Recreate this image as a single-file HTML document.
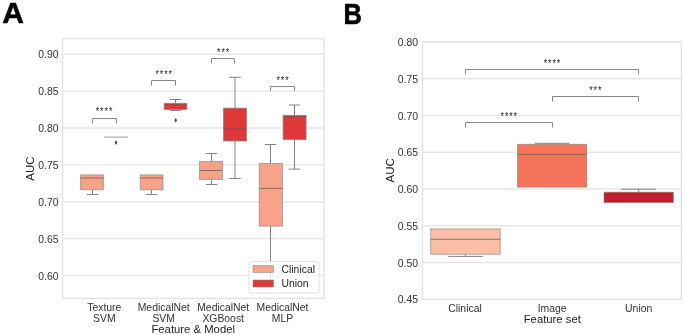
<!DOCTYPE html>
<html><head><meta charset="utf-8"><style>
html,body{margin:0;padding:0;background:#fff;}
svg{display:block;will-change:transform;}
text{font-family:"Liberation Sans", sans-serif;}
</style></head><body>
<svg width="685" height="335" viewBox="0 0 685 335">
<rect width="685" height="335" fill="#fff"/>
<line x1="62.6" y1="54.3" x2="324.1" y2="54.3" stroke="#e6e6e6" stroke-width="1.4"/>
<text x="58.5" y="58.40" text-anchor="end" font-size="10.4" fill="#333">0.90</text>
<line x1="62.6" y1="91.17" x2="324.1" y2="91.17" stroke="#e6e6e6" stroke-width="1.4"/>
<text x="58.5" y="95.27" text-anchor="end" font-size="10.4" fill="#333">0.85</text>
<line x1="62.6" y1="128.04" x2="324.1" y2="128.04" stroke="#e6e6e6" stroke-width="1.4"/>
<text x="58.5" y="132.14" text-anchor="end" font-size="10.4" fill="#333">0.80</text>
<line x1="62.6" y1="164.91" x2="324.1" y2="164.91" stroke="#e6e6e6" stroke-width="1.4"/>
<text x="58.5" y="169.01" text-anchor="end" font-size="10.4" fill="#333">0.75</text>
<line x1="62.6" y1="201.78" x2="324.1" y2="201.78" stroke="#e6e6e6" stroke-width="1.4"/>
<text x="58.5" y="205.88" text-anchor="end" font-size="10.4" fill="#333">0.70</text>
<line x1="62.6" y1="238.65" x2="324.1" y2="238.65" stroke="#e6e6e6" stroke-width="1.4"/>
<text x="58.5" y="242.75" text-anchor="end" font-size="10.4" fill="#333">0.65</text>
<line x1="62.6" y1="275.52" x2="324.1" y2="275.52" stroke="#e6e6e6" stroke-width="1.4"/>
<text x="58.5" y="279.62" text-anchor="end" font-size="10.4" fill="#333">0.60</text>
<rect x="62.6" y="38.6" width="261.50" height="259.80" fill="none" stroke="#e3e3e3" stroke-width="1.4"/>
<line x1="92.5" y1="189.8" x2="92.5" y2="194.5" stroke="#838383" stroke-width="1"/>
<line x1="86.80" y1="194.5" x2="98.20" y2="194.5" stroke="#838383" stroke-width="1"/>
<rect x="80.6" y="174.9" width="22.80" height="14.90" fill="#f8a28a" stroke="#838383" stroke-opacity="0.7" stroke-width="0.9"/>
<line x1="80.6" y1="178.0" x2="103.4" y2="178.0" stroke="#6a5a55" stroke-opacity="0.75" stroke-width="1"/>
<line x1="151.5" y1="189.8" x2="151.5" y2="194.5" stroke="#838383" stroke-width="1"/>
<line x1="145.80" y1="194.5" x2="157.20" y2="194.5" stroke="#838383" stroke-width="1"/>
<rect x="140.2" y="174.9" width="22.80" height="14.90" fill="#f8a28a" stroke="#838383" stroke-opacity="0.7" stroke-width="0.9"/>
<line x1="140.2" y1="178.0" x2="163.0" y2="178.0" stroke="#6a5a55" stroke-opacity="0.75" stroke-width="1"/>
<line x1="211.5" y1="153.5" x2="211.5" y2="161.4" stroke="#838383" stroke-width="1"/>
<line x1="205.75" y1="153.5" x2="217.25" y2="153.5" stroke="#838383" stroke-width="1"/>
<line x1="211.5" y1="179.4" x2="211.5" y2="184.5" stroke="#838383" stroke-width="1"/>
<line x1="205.75" y1="184.5" x2="217.25" y2="184.5" stroke="#838383" stroke-width="1"/>
<rect x="199.6" y="161.4" width="23.00" height="18.00" fill="#f8a28a" stroke="#838383" stroke-opacity="0.7" stroke-width="0.9"/>
<line x1="199.6" y1="170.5" x2="222.6" y2="170.5" stroke="#6a5a55" stroke-opacity="0.75" stroke-width="1"/>
<line x1="270.5" y1="144.5" x2="270.5" y2="163.4" stroke="#838383" stroke-width="1"/>
<line x1="264.70" y1="144.5" x2="276.30" y2="144.5" stroke="#838383" stroke-width="1"/>
<line x1="270.5" y1="226.1" x2="270.5" y2="286.0" stroke="#838383" stroke-width="1"/>
<line x1="264.70" y1="286.0" x2="276.30" y2="286.0" stroke="#838383" stroke-width="1"/>
<rect x="259.2" y="163.4" width="23.20" height="62.70" fill="#f8a28a" stroke="#838383" stroke-opacity="0.7" stroke-width="0.9"/>
<line x1="259.2" y1="188.4" x2="282.4" y2="188.4" stroke="#6a5a55" stroke-opacity="0.75" stroke-width="1"/>
<line x1="104.2" y1="137.1" x2="127.9" y2="137.1" stroke="#aaa" stroke-width="1.2"/>
<path d="M116.0 140.29999999999998 L117.35 142.6 L116.0 144.9 L114.65 142.6 Z" fill="#444"/>
<line x1="175.5" y1="99.5" x2="175.5" y2="103.3" stroke="#838383" stroke-width="1"/>
<line x1="169.85" y1="99.5" x2="181.15" y2="99.5" stroke="#838383" stroke-width="1"/>
<line x1="175.5" y1="109.5" x2="175.5" y2="110.5" stroke="#838383" stroke-width="1"/>
<line x1="169.85" y1="110.5" x2="181.15" y2="110.5" stroke="#838383" stroke-width="1"/>
<rect x="164.2" y="103.3" width="22.60" height="6.20" fill="#dd3939" stroke="#838383" stroke-opacity="0.7" stroke-width="0.9"/>
<line x1="164.2" y1="104.8" x2="186.8" y2="104.8" stroke="#6a5a55" stroke-opacity="0.75" stroke-width="1"/>
<path d="M175.7 117.9 L177.04999999999998 120.2 L175.7 122.5 L174.35 120.2 Z" fill="#444"/>
<line x1="235.0" y1="77.3" x2="235.0" y2="108.1" stroke="#838383" stroke-width="1"/>
<line x1="229.20" y1="77.3" x2="240.80" y2="77.3" stroke="#838383" stroke-width="1"/>
<line x1="235.0" y1="141.0" x2="235.0" y2="178.5" stroke="#838383" stroke-width="1"/>
<line x1="229.20" y1="178.5" x2="240.80" y2="178.5" stroke="#838383" stroke-width="1"/>
<rect x="223.4" y="108.1" width="23.20" height="32.90" fill="#dd3939" stroke="#838383" stroke-opacity="0.7" stroke-width="0.9"/>
<line x1="223.4" y1="129.2" x2="246.6" y2="129.2" stroke="#6a5a55" stroke-opacity="0.75" stroke-width="1"/>
<line x1="294.5" y1="105.0" x2="294.5" y2="115.3" stroke="#838383" stroke-width="1"/>
<line x1="288.75" y1="105.0" x2="300.25" y2="105.0" stroke="#838383" stroke-width="1"/>
<line x1="294.5" y1="139.6" x2="294.5" y2="169.1" stroke="#838383" stroke-width="1"/>
<line x1="288.75" y1="169.1" x2="300.25" y2="169.1" stroke="#838383" stroke-width="1"/>
<rect x="283.1" y="115.3" width="23.00" height="24.30" fill="#dd3939" stroke="#838383" stroke-opacity="0.7" stroke-width="0.9"/>
<line x1="283.1" y1="116.8" x2="306.1" y2="116.8" stroke="#6a5a55" stroke-opacity="0.75" stroke-width="1"/>
<path d="M92.5 123.5 V118.5 H116.5 V123.5" fill="none" stroke="#888" stroke-width="1"/>
<text transform="translate(97.40,115.40) scale(0.8,1)" text-anchor="middle" font-size="11" fill="#222">*</text>
<text transform="translate(101.80,115.40) scale(0.8,1)" text-anchor="middle" font-size="11" fill="#222">*</text>
<text transform="translate(106.20,115.40) scale(0.8,1)" text-anchor="middle" font-size="11" fill="#222">*</text>
<text transform="translate(110.60,115.40) scale(0.8,1)" text-anchor="middle" font-size="11" fill="#222">*</text>
<path d="M151.5 85.5 V80.5 H175.5 V85.5" fill="none" stroke="#888" stroke-width="1"/>
<text transform="translate(157.10,78.30) scale(0.8,1)" text-anchor="middle" font-size="11" fill="#222">*</text>
<text transform="translate(161.50,78.30) scale(0.8,1)" text-anchor="middle" font-size="11" fill="#222">*</text>
<text transform="translate(165.90,78.30) scale(0.8,1)" text-anchor="middle" font-size="11" fill="#222">*</text>
<text transform="translate(170.30,78.30) scale(0.8,1)" text-anchor="middle" font-size="11" fill="#222">*</text>
<path d="M211.5 63.5 V58.5 H234.5 V63.5" fill="none" stroke="#888" stroke-width="1"/>
<text transform="translate(218.70,55.80) scale(0.8,1)" text-anchor="middle" font-size="11" fill="#222">*</text>
<text transform="translate(223.10,55.80) scale(0.8,1)" text-anchor="middle" font-size="11" fill="#222">*</text>
<text transform="translate(227.50,55.80) scale(0.8,1)" text-anchor="middle" font-size="11" fill="#222">*</text>
<path d="M270.5 91.0 V86.5 H294.5 V91.0" fill="none" stroke="#888" stroke-width="1"/>
<text transform="translate(278.10,83.70) scale(0.8,1)" text-anchor="middle" font-size="11" fill="#222">*</text>
<text transform="translate(282.50,83.70) scale(0.8,1)" text-anchor="middle" font-size="11" fill="#222">*</text>
<text transform="translate(286.90,83.70) scale(0.8,1)" text-anchor="middle" font-size="11" fill="#222">*</text>
<rect x="249" y="261.5" width="70" height="31.5" rx="2.5" fill="#fff" fill-opacity="0.8" stroke="#e0e0e0" stroke-width="1"/>
<rect x="253" y="265.5" width="20.5" height="7" fill="#f8a28a" stroke="#838383" stroke-width="0.5"/>
<rect x="253" y="280" width="20.5" height="7" fill="#dd3939" stroke="#838383" stroke-width="0.5"/>
<text x="281.5" y="273" font-size="10.4" fill="#222">Clinical</text>
<text x="281.5" y="287.3" font-size="10.4" fill="#222">Union</text>
<text x="104.3" y="311.1" text-anchor="middle" font-size="10.4" fill="#333">Texture</text>
<text x="104.3" y="321.8" text-anchor="middle" font-size="10.4" fill="#333">SVM</text>
<text x="163.7" y="311.1" text-anchor="middle" font-size="10.4" fill="#333">MedicalNet</text>
<text x="163.7" y="321.8" text-anchor="middle" font-size="10.4" fill="#333">SVM</text>
<text x="223.2" y="311.1" text-anchor="middle" font-size="10.4" fill="#333">MedicalNet</text>
<text x="223.2" y="321.8" text-anchor="middle" font-size="10.4" fill="#333">XGBoost</text>
<text x="282.5" y="311.1" text-anchor="middle" font-size="10.4" fill="#333">MedicalNet</text>
<text x="282.5" y="321.8" text-anchor="middle" font-size="10.4" fill="#333">MLP</text>
<text x="193.2" y="333.0" text-anchor="middle" font-size="11.3" fill="#222">Feature &amp; Model</text>
<text transform="translate(34,168.5) rotate(-90)" text-anchor="middle" font-size="11.5" fill="#222">AUC</text>
<text x="2.3" y="23.4" font-size="30" font-weight="bold" fill="#000" stroke="#000" stroke-width="0.5">A</text>
<line x1="422.5" y1="41.9" x2="681.3" y2="41.9" stroke="#e6e6e6" stroke-width="1.4"/>
<text x="418" y="46.00" text-anchor="end" font-size="10.4" fill="#333">0.80</text>
<line x1="422.5" y1="78.68" x2="681.3" y2="78.68" stroke="#e6e6e6" stroke-width="1.4"/>
<text x="418" y="82.78" text-anchor="end" font-size="10.4" fill="#333">0.75</text>
<line x1="422.5" y1="115.46" x2="681.3" y2="115.46" stroke="#e6e6e6" stroke-width="1.4"/>
<text x="418" y="119.56" text-anchor="end" font-size="10.4" fill="#333">0.70</text>
<line x1="422.5" y1="152.24" x2="681.3" y2="152.24" stroke="#e6e6e6" stroke-width="1.4"/>
<text x="418" y="156.34" text-anchor="end" font-size="10.4" fill="#333">0.65</text>
<line x1="422.5" y1="189.02" x2="681.3" y2="189.02" stroke="#e6e6e6" stroke-width="1.4"/>
<text x="418" y="193.12" text-anchor="end" font-size="10.4" fill="#333">0.60</text>
<line x1="422.5" y1="225.8" x2="681.3" y2="225.8" stroke="#e6e6e6" stroke-width="1.4"/>
<text x="418" y="229.90" text-anchor="end" font-size="10.4" fill="#333">0.55</text>
<line x1="422.5" y1="262.58" x2="681.3" y2="262.58" stroke="#e6e6e6" stroke-width="1.4"/>
<text x="418" y="266.68" text-anchor="end" font-size="10.4" fill="#333">0.50</text>
<line x1="422.5" y1="299.36" x2="681.3" y2="299.36" stroke="#e6e6e6" stroke-width="1.4"/>
<text x="418" y="303.46" text-anchor="end" font-size="10.4" fill="#333">0.45</text>
<rect x="422.5" y="41.9" width="258.80" height="257.45" fill="none" stroke="#e3e3e3" stroke-width="1.4"/>
<line x1="465.45" y1="254.2" x2="465.45" y2="256.4" stroke="#838383" stroke-width="1"/>
<line x1="448.10" y1="256.4" x2="482.80" y2="256.4" stroke="#838383" stroke-width="1"/>
<rect x="430.7" y="228.9" width="69.50" height="25.30" fill="#fbbfa7" stroke="#838383" stroke-opacity="0.7" stroke-width="0.9"/>
<line x1="430.7" y1="239.3" x2="500.2" y2="239.3" stroke="#6a5a55" stroke-opacity="0.75" stroke-width="1"/>
<line x1="552.1" y1="143.3" x2="552.1" y2="144.3" stroke="#838383" stroke-width="1"/>
<line x1="534.85" y1="143.3" x2="569.35" y2="143.3" stroke="#838383" stroke-width="1"/>
<rect x="517.5" y="144.3" width="69.20" height="42.80" fill="#f5725b" stroke="#838383" stroke-opacity="0.7" stroke-width="0.9"/>
<line x1="517.5" y1="154.4" x2="586.7" y2="154.4" stroke="#6a5a55" stroke-opacity="0.75" stroke-width="1"/>
<line x1="638.7" y1="189.2" x2="638.7" y2="192.2" stroke="#838383" stroke-width="1"/>
<line x1="621.20" y1="189.2" x2="656.20" y2="189.2" stroke="#838383" stroke-width="1"/>
<rect x="604.0" y="192.2" width="69.40" height="10.40" fill="#c71a2c" stroke="#838383" stroke-opacity="0.7" stroke-width="0.9"/>
<line x1="604.0" y1="197.3" x2="673.4" y2="197.3" stroke="#6a5a55" stroke-opacity="0.75" stroke-width="1"/>
<path d="M465.5 74.5 V69.5 H638.5 V74.5" fill="none" stroke="#888" stroke-width="1"/>
<text transform="translate(545.48,67.10) scale(0.8,1)" text-anchor="middle" font-size="11" fill="#222">*</text>
<text transform="translate(549.83,67.10) scale(0.8,1)" text-anchor="middle" font-size="11" fill="#222">*</text>
<text transform="translate(554.17,67.10) scale(0.8,1)" text-anchor="middle" font-size="11" fill="#222">*</text>
<text transform="translate(558.52,67.10) scale(0.8,1)" text-anchor="middle" font-size="11" fill="#222">*</text>
<path d="M465.5 127.5 V122.5 H552.5 V127.5" fill="none" stroke="#888" stroke-width="1"/>
<text transform="translate(502.28,120.10) scale(0.8,1)" text-anchor="middle" font-size="11" fill="#222">*</text>
<text transform="translate(506.62,120.10) scale(0.8,1)" text-anchor="middle" font-size="11" fill="#222">*</text>
<text transform="translate(510.98,120.10) scale(0.8,1)" text-anchor="middle" font-size="11" fill="#222">*</text>
<text transform="translate(515.33,120.10) scale(0.8,1)" text-anchor="middle" font-size="11" fill="#222">*</text>
<path d="M552.5 101.5 V96.5 H638.5 V101.5" fill="none" stroke="#888" stroke-width="1"/>
<text transform="translate(590.95,93.50) scale(0.8,1)" text-anchor="middle" font-size="11" fill="#222">*</text>
<text transform="translate(595.30,93.50) scale(0.8,1)" text-anchor="middle" font-size="11" fill="#222">*</text>
<text transform="translate(599.65,93.50) scale(0.8,1)" text-anchor="middle" font-size="11" fill="#222">*</text>
<text x="465.0" y="311.5" text-anchor="middle" font-size="10.4" fill="#333">Clinical</text>
<text x="552.1" y="311.5" text-anchor="middle" font-size="10.4" fill="#333">Image</text>
<text x="638.7" y="311.5" text-anchor="middle" font-size="10.4" fill="#333">Union</text>
<text x="552.3" y="322.8" text-anchor="middle" font-size="11.3" fill="#222">Feature set</text>
<text transform="translate(394.2,170.4) rotate(-90)" text-anchor="middle" font-size="11.5" fill="#222">AUC</text>
<text transform="translate(343.4,23.6) scale(0.87,1)" font-size="29.3" font-weight="bold" fill="#000" stroke="#000" stroke-width="0.6">B</text>
</svg>
</body></html>
